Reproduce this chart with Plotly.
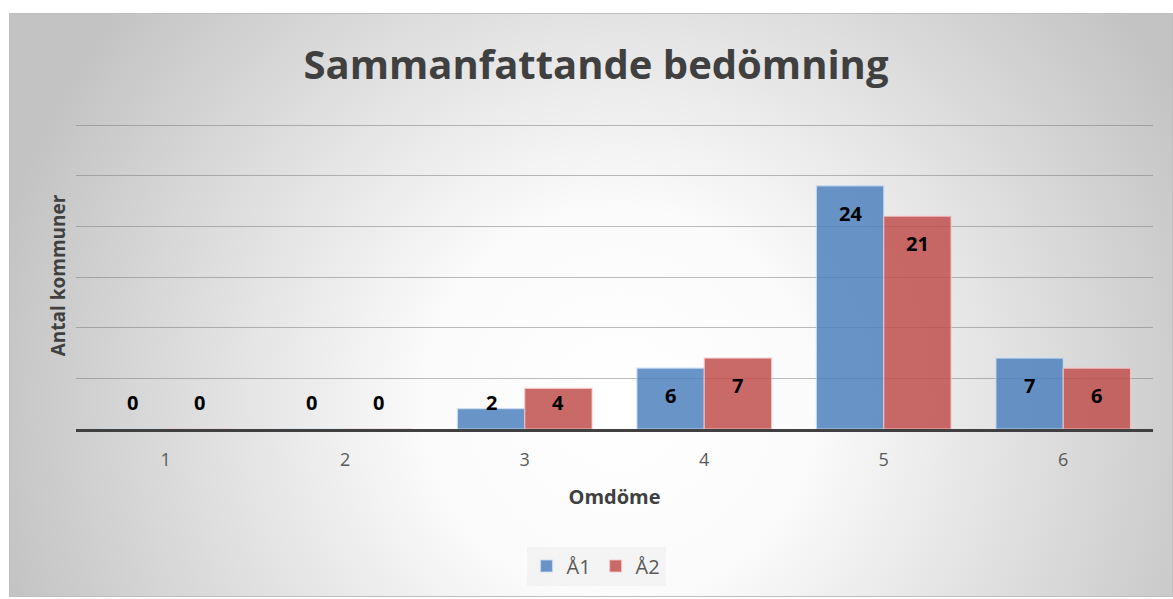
import base64
import plotly.graph_objects as go

# ---- data ----
categories = ["1", "2", "3", "4", "5", "6"]
series_names = ["Å1", "Å2"]
values_a1 = [0, 0, 2, 6, 24, 7]
values_a2 = [0, 0, 4, 7, 21, 6]
title_text = "Sammanfattande bedömning"
x_title = "Omdöme"
y_title = "Antal kommuner"

# ---- layout geometry (pixels) ----
W, H = 1173, 599
L, R, T, B = 76, 20, 122, 170
PW, PH = W - L - R, H - T - B
YMAX = 30.3


def px_x(p):
    return (p - L) / PW


def px_y(p):
    return (H - B - p) / PH


colors = ["rgba(79,129,189,0.85)", "rgba(192,80,77,0.85)"]
edge = ["rgba(200,220,245,0.8)", "rgba(245,200,200,0.8)"]

fig = go.Figure()
for name, vals, c, e in zip(series_names, [values_a1, values_a2], colors, edge):
    fig.add_trace(go.Bar(
        x=categories, y=vals, name=name,
        marker=dict(color=c, line=dict(color=e, width=1.2)),
        hoverinfo="x+y+name",
    ))

# data labels (inside end, or near base when the bar is too short)
bargap = 0.25
group_px = PW / len(categories) * (1 - bargap)
bar_px = group_px / 2
annotations = []
for i, vals in enumerate([values_a1, values_a2]):
    shift = (i - 0.5) * bar_px
    for idx, v in enumerate(vals):
        ylab = max(2.6, v - 2.7)
        annotations.append(dict(
            x=idx, y=ylab, xref="x", yref="y", text=f"<b>{v}</b>",
            showarrow=False, xshift=shift,
            font=dict(family="Open Sans", size=20, color="#000000"),
        ))

svg = (
    '<svg xmlns="http://www.w3.org/2000/svg" width="1164" height="584" '
    'viewBox="0 0 1164 584" preserveAspectRatio="none"><defs>'
    '<radialGradient id="g" gradientUnits="userSpaceOnUse" cx="610" cy="390" r="640">'
    '<stop offset="0" stop-color="#ffffff"/><stop offset="0.3" stop-color="#fbfbfb"/>'
    '<stop offset="1" stop-color="#c3c3c3"/></radialGradient></defs>'
    '<rect width="1164" height="584" fill="url(#g)"/></svg>'
)
src = "data:image/svg+xml;base64," + base64.b64encode(svg.encode()).decode()

fig.update_layout(
    width=W, height=H,
    margin=dict(l=L, r=R, t=T, b=B, autoexpand=False),
    paper_bgcolor="#ffffff",
    plot_bgcolor="rgba(0,0,0,0)",
    barmode="group", bargap=bargap, bargroupgap=0,
    font=dict(family="Open Sans", color="#595959"),
    title=dict(
        text=f"<b>{title_text}</b>", x=596 / W, xanchor="center",
        y=1 - 65 / H, yanchor="middle",
        font=dict(family="Open Sans", size=40, color="#404040"),
    ),
    xaxis=dict(
        type="category",
        showline=True, linecolor="#404040", linewidth=3,
        ticks="outside", ticklen=12, tickcolor="rgba(0,0,0,0)",
        tickfont=dict(size=18, color="#595959"),
        showgrid=False,
        title=dict(text=f"<b>{x_title}</b>", standoff=21,
                   font=dict(size=20, color="#404040")),
    ),
    yaxis=dict(
        range=[0, YMAX], tick0=0, dtick=5, showticklabels=False,
        gridcolor="rgba(120,120,120,0.5)", gridwidth=1,
        zeroline=False,
        title=dict(text=f"<b>{y_title}</b>", standoff=4,
                   font=dict(size=19, color="#404040")),
    ),
    legend=dict(
        orientation="h", x=px_x(596), xanchor="center",
        y=px_y(566), yanchor="middle",
        bgcolor="rgba(225,225,225,0.3)",
        font=dict(size=20, color="#595959"),
        itemwidth=30, tracegroupgap=0,
    ),
    annotations=annotations,
    images=[dict(
        source=src, xref="paper", yref="paper",
        x=px_x(9), y=px_y(13), sizex=(1173 - 9) / PW, sizey=(597 - 13) / PH,
        xanchor="left", yanchor="top", sizing="stretch", layer="below",
    )],
    shapes=[dict(
        type="rect", xref="paper", yref="paper",
        x0=px_x(9.5), x1=px_x(1172.5), y0=px_y(596.5), y1=px_y(13.5),
        line=dict(color="#bfbfbf", width=1), fillcolor="rgba(0,0,0,0)",
        layer="below",
    )],
)

fig.write_html(
    "out.html",
    config={"displayModeBar": False},
    post_script="document.body.style.margin='0';document.body.style.padding='0';",
)
